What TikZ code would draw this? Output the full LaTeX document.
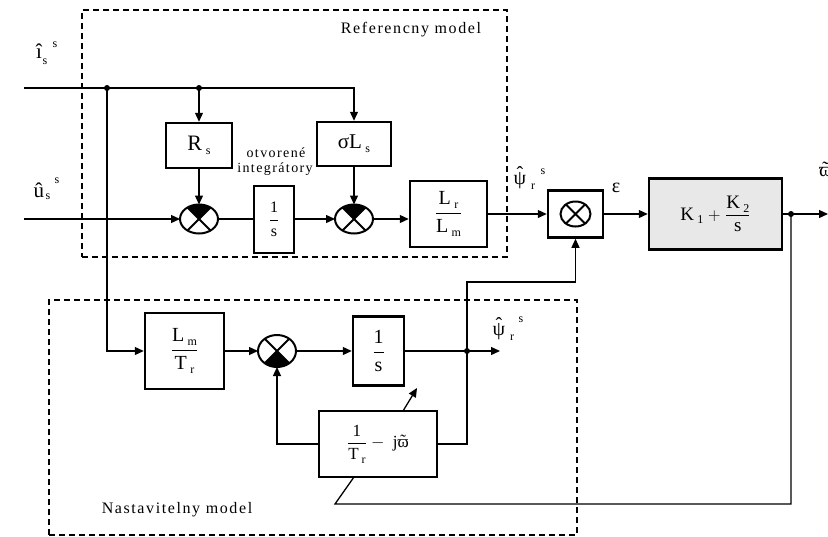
\documentclass[tikz,border=0pt]{standalone}
\usepackage{fontspec}
\usepackage{amsmath}
\setmainfont{Liberation Serif}
\usetikzlibrary{arrows.meta,shapes.geometric,calc}
\newcommand\fsz[1]{\fontsize{#1}{#1}\selectfont}
\newcommand\sbs[1]{\,\raisebox{-0.45ex}{\fsz{12}#1}}
\newcommand\frc[2]{$\dfrac{\mbox{#1}}{\mbox{#2}}$}
\newcommand\acc[3]{\ooalign{#1\cr\hidewidth\raisebox{#3}{#2}\hidewidth\cr}}
\newcommand\jtop[1]{\fill (#1.center) \foreach \a in {45,50,...,135}{ -- (#1.\a)} -- cycle;}
\newcommand\jbot[1]{\fill (#1.center) \foreach \a in {225,230,...,315}{ -- (#1.\a)} -- cycle;}
\newcommand\jcross[1]{\draw[line width=2pt] (#1.45) -- (#1.225) (#1.135) -- (#1.315);}
\begin{document}
\begin{tikzpicture}[x=1pt,y=-1pt,
  blk/.style={draw, line width=2.5pt, inner sep=0pt, align=center},
  conn/.style={line width=1.3pt},
  arr/.style={conn, -{Triangle[length=9pt,width=8pt]}},
  sumj/.style={draw, ellipse, line width=2pt, inner sep=0pt, outer sep=0pt},
  dbox/.style={draw, line width=1.4pt, dash pattern=on 6pt off 4pt, inner sep=0pt},
  lbl/.style={inner sep=0pt, font=\fsz{16}\addfontfeature{LetterSpace=10}},
  dot/.style={circle, fill, inner sep=0pt, minimum size=6pt}]
\useasboundingbox (0,0) rectangle (828,536);
\fill[white] (0,0) rectangle (828,536);

% dashed model frames
\node[dbox, minimum width=425pt, minimum height=247pt] (refm) at (294.5,133.5) {};
\node[dbox, minimum width=528pt, minimum height=235pt] (nasm) at (313,417.5) {};
\node[lbl] (reft) at (411,30) {Referencny model};
\node[lbl] (nast) at (177,510) {Nastavitelny model};
\node[inner sep=0pt, font=\fsz{14}\addfontfeature{LetterSpace=10}] (otv) at (276,153) {otvorené};
\node[inner sep=0pt, font=\fsz{14}\addfontfeature{LetterSpace=10}] (intg) at (275,169) {integrátory};

% blocks
\node[blk, minimum width=66pt, minimum height=45pt, font=\fsz{22}] (rs) at (199,145.5) {R\sbs{s}};
\node[blk, minimum width=74pt, minimum height=44pt, font=\fsz{21}] (sl) at (354,144) {σL\sbs{s}};
\node[blk, minimum width=40pt, minimum height=67pt, font=\fsz{16}] (ts) at (274,219.5) {\frc{1}{s}};
\node[blk, minimum width=77pt, minimum height=66pt, font=\fsz{20}] (lrlm) at (448.5,214) {\frc{L\sbs{r}}{L\sbs{m}}};
\node[blk, minimum width=55pt, minimum height=47pt] (xb) at (575.5,214) {};
\node[blk, minimum width=133pt, minimum height=71pt, fill=black!9, font=\fsz{19}] (kb) at (715.5,214) {K\sbs{1}\ $+$ \frc{K\sbs{2}}{s}};
\node[blk, minimum width=79pt, minimum height=76pt, font=\fsz{20}] (lmtr) at (184.5,351) {\frc{L\sbs{m}}{T\sbs{r}}};
\node[blk, minimum width=51pt, minimum height=69pt, font=\fsz{20}] (bs) at (378.5,351) {\frc{1}{s}};
\node[blk, minimum width=118pt, minimum height=66pt, font=\fsz{17}] (tr) at (378,444) {\frc{1}{T\sbs{r}}\ $-$\ \ j\acc{ϖ}{˜}{0.05em}};

% summing junctions
\node[sumj, minimum width=38pt, minimum height=29pt] (j1) at (199,219) {};
\node[sumj, minimum width=38pt, minimum height=29pt] (j2) at (354,219) {};
\node[sumj, minimum width=38pt, minimum height=32pt] (j3) at (277,351) {};
\node[sumj, minimum width=30pt, minimum height=25pt] (xc) at (xb.center) {};
\jtop{j1}\jcross{j1}
\jtop{j2}\jcross{j2}
\jbot{j3}\jcross{j3}
\jcross{xc}

% signal labels
\node[inner sep=0pt, font=\fsz{21}] (il) at (39,51) {î};
\node[inner sep=0pt, font=\fsz{12}] (ils) at (45,62) {s};
\node[inner sep=0pt, font=\fsz{12}] (ilp) at (55,45) {s};
\node[inner sep=0pt, font=\fsz{21}] (ul) at (39,190) {û};
\node[inner sep=0pt, font=\fsz{12}] (uls) at (48,197) {s};
\node[inner sep=0pt, font=\fsz{12}] (ulp) at (57,181) {s};
\node[inner sep=0pt, font=\fsz{20}] (p1) at (520,178) {\acc{ψ}{ˆ}{0.2em}};
\node[inner sep=0pt, font=\fsz{12}] (p1s) at (533,187) {r};
\node[inner sep=0pt, font=\fsz{12}] (p1p) at (543,172) {s};
\node[inner sep=0pt, font=\fsz{20}] (p2) at (499,329) {\acc{ψ}{ˆ}{0.2em}};
\node[inner sep=0pt, font=\fsz{12}] (p2s) at (512,338) {r};
\node[inner sep=0pt, font=\fsz{12}] (p2p) at (521,320) {s};
\node[inner sep=0pt, font=\fsz{20}] (eps) at (616,188) {ε};
\node[inner sep=0pt, font=\fsz{20}, anchor=west] (wout) at (819,172) {\acc{ϖ}{˜}{0.05em}};

% coordinates
\coordinate (iin) at (24,88);
\coordinate (d1) at (107,88);
\coordinate (d2) at (199,88);
\coordinate (tc) at (354,88);
\coordinate (uin) at (24,219);
\coordinate (oout) at (828,214);
\coordinate (d3) at (791,214);
\coordinate (d4) at (467,351);
\coordinate (pout) at (500,351);
\coordinate (bl) at (791,504);
\coordinate (br) at (335,504);
\coordinate (tb) at (354,477);
\coordinate (ta) at (403,411);
\coordinate (tt) at (417,388);

% connectors
\draw[arr] (iin) -- (tc) -- (sl.north);
\draw[arr] (d2) -- (rs.north);
\draw[arr] (d1) -- (d1 |- lmtr.west) -- (lmtr.west);
\draw[arr] (uin) -- (j1.west);
\draw[arr] (rs.south) -- (j1.north);
\draw[conn] (j1.east) -- (ts.west |- j1.east);
\draw[arr] (ts.east |- j2.west) -- (j2.west);
\draw[arr] (sl.south) -- (j2.north);
\draw[arr] (j2.east) -- (lrlm.west |- j2.east);
\draw[arr] (lrlm.east) -- (xb.west);
\draw[arr] (xb.east) -- (kb.west);
\draw[arr] (kb.east) -- (oout);
\draw[conn] (d3) -- (bl) -- (br) -- (tb);
\draw[arr] (ta) -- (tt);
\draw[arr] (lmtr.east) -- (j3.west);
\draw[arr] (j3.east) -- (bs.west);
\draw[conn] (bs.east) -- (d4);
\draw[arr] (d4) -- (pout);
\draw[conn] (d4) -- (d4 |- tr.east) -- (tr.east);
\draw[arr] (tr.west) -- (j3 |- tr.west) -- (j3.south);
\draw[arr] (d4) -- (467,282) -- (xb.south |- 0,282) -- (xb.south);
\node[dot] at (d1) {};
\node[dot] at (d2) {};
\node[dot] at (d3) {};
\node[dot] at (d4) {};
\end{tikzpicture}
\end{document}
